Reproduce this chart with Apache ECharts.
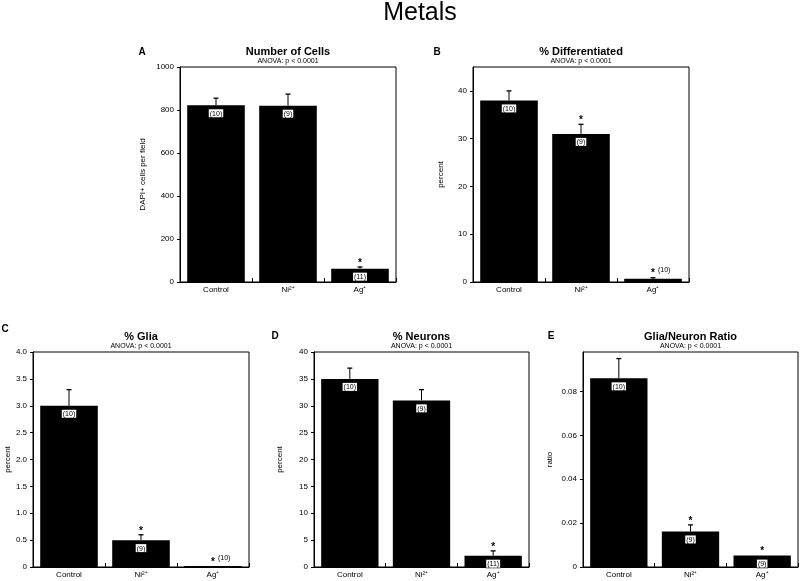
<!DOCTYPE html>
<html>
<head>
<meta charset="utf-8">
<title>Metals</title>
<script src="https://cdn.jsdelivr.net/npm/echarts@6/dist/echarts.min.js"></script>
<style>
  html, body { margin: 0; padding: 0; background: #fff; }
  #chart { width: 800px; height: 581px; }
</style>
</head>
<body>
<div id="chart"></div>
<script>
const FONT = "'Liberation Sans', Arial, sans-serif";

const groups = ["Control", "Ni²⁺", "Ag⁺"];

// A - number of cells
const cellsMean = [822, 820, 62];
const cellsErr = [855, 874, 70];
const cellsN = ["(10)", "(9)", "(11)"];
const cellsStar = [0, 0, 1];
const cellsNInside = [1, 1, 1];

// B - % differentiated
const diffMean = [38, 31, 0.7];
const diffErr = [40, 33, 0.9];
const diffN = ["(10)", "(9)", "(10)"];
const diffStar = [0, 1, 1];
const diffNInside = [1, 1, 0];

// C - % glia
const gliaMean = [3.0, 0.5, 0.02];
const gliaErr = [3.3, 0.6, 0.02];
const gliaN = ["(10)", "(9)", "(10)"];
const gliaStar = [0, 1, 1];
const gliaNInside = [1, 1, 0];

// D - % neurons
const neurMean = [35, 31, 2.1];
const neurErr = [37, 33, 3];
const neurN = ["(10)", "(9)", "(11)"];
const neurStar = [0, 0, 1];
const neurNInside = [1, 1, 1];

// E - glia/neuron ratio
const ratioMean = [0.086, 0.0162, 0.0052];
const ratioErr = [0.095, 0.0192, 0.0052];
const ratioN = ["(10)", "(9)", "(9)"];
const ratioStar = [0, 1, 1];
const ratioNInside = [1, 1, 1];

const panels = [
  { letter: "A", title: "Number of Cells", yName: "DAPI+ cells per field",
    mean: cellsMean, err: cellsErr, n: cellsN, star: cellsStar, nIn: cellsNInside,
    max: 1000, step: 200, showMax: true, fmt: (v) => String(v),
    box: { left: 180, top: 67, width: 216, height: 215 }, nameGap: 33, letterX: 142, letterY: 52 },
  { letter: "B", title: "% Differentiated", yName: "percent",
    mean: diffMean, err: diffErr, n: diffN, star: diffStar, nIn: diffNInside,
    max: 45, step: 10, showMax: false, fmt: (v) => String(v),
    box: { left: 473, top: 67, width: 216, height: 215 }, nameGap: 28, letterX: 437, letterY: 52 },
  { letter: "C", title: "% Glia", yName: "percent",
    mean: gliaMean, err: gliaErr, n: gliaN, star: gliaStar, nIn: gliaNInside,
    max: 4, step: 0.5, showMax: true,
    fmt: (v) => (v === 0 ? "0" : v.toFixed(1)),
    box: { left: 33, top: 352, width: 216, height: 215 }, nameGap: 20, letterX: 5, letterY: 329 },
  { letter: "D", title: "% Neurons", yName: "percent",
    mean: neurMean, err: neurErr, n: neurN, star: neurStar, nIn: neurNInside,
    max: 40, step: 5, showMax: true, fmt: (v) => String(v),
    box: { left: 314, top: 352, width: 215, height: 215 }, nameGap: 30, letterX: 275, letterY: 336 },
  { letter: "E", title: "Glia/Neuron Ratio", yName: "ratio",
    mean: ratioMean, err: ratioErr, n: ratioN, star: ratioStar, nIn: ratioNInside,
    max: 0.098, step: 0.02, showMax: false,
    fmt: (v) => (v === 0 ? "0" : v.toFixed(2)),
    box: { left: 583, top: 352, width: 215, height: 215 }, nameGap: 29, letterX: 551, letterY: 336 },
];

function txt(x, y, text, size, bold) {
  return {
    type: "text",
    x: x,
    y: y,
    style: {
      text: text,
      fontSize: size,
      fontWeight: bold ? "bold" : "normal",
      fontFamily: FONT,
      fill: "#000",
      textAlign: "center",
      textVerticalAlign: "middle",
    },
  };
}

/**
 * 误差线 + 星号 + 外部样本数
 */
function errRender(p) {
  return function (params, api) {
    const i = params.dataIndex;
    const base = api.coord([i, p.mean[i]]);
    const top = api.coord([i, p.err[i]]);
    const kids = [];
    if (p.err[i] > p.mean[i]) {
      kids.push({
        type: "line",
        shape: { x1: base[0], y1: base[1], x2: top[0], y2: top[1] },
        style: { stroke: "#000", lineWidth: 1 },
      });
      kids.push({
        type: "line",
        shape: { x1: top[0] - 2.5, y1: top[1], x2: top[0] + 2.5, y2: top[1] },
        style: { stroke: "#000", lineWidth: 1.3 },
      });
    }
    const y = Math.min(base[1], top[1]);
    if (p.star[i]) {
      kids.push({
        type: "text",
        x: top[0],
        y: y - 4,
        style: {
          text: "*", fontSize: 10, fontWeight: "bold", fontFamily: FONT, fill: "#000",
          align: "center", verticalAlign: "middle", textAlign: "center", textVerticalAlign: "middle",
        },
      });
    }
    if (!p.nIn[i]) {
      kids.push({
        type: "text",
        x: top[0] + 5,
        y: y - 8,
        style: {
          text: p.n[i], fontSize: 7, fontFamily: FONT, fill: "#000",
          align: "left", verticalAlign: "middle", textAlign: "left", textVerticalAlign: "middle",
        },
      });
    }
    return { type: "group", children: kids };
  };
}

const grid = [];
const xAxis = [];
const yAxis = [];
const series = [];
const graphic = [txt(420, 13, "Metals", 25, false)];

panels.forEach((p, k) => {
  const b = p.box;
  grid.push({
    left: b.left, top: b.top, width: b.width, height: b.height,
    show: true, borderColor: "#000", borderWidth: 1,
    outerBoundsMode: "none",
  });
  xAxis.push({
    gridIndex: k,
    type: "category",
    data: groups,
    axisLine: { lineStyle: { color: "#000", width: 1 } },
    axisTick: { show: true, inside: true, length: 4, lineStyle: { color: "#000" } },
    axisLabel: { color: "#000", fontSize: 8, fontFamily: FONT, margin: 4, interval: 0 },
  });
  yAxis.push({
    gridIndex: k,
    type: "value",
    min: 0,
    max: p.max,
    interval: p.step,
    name: p.yName,
    nameLocation: "middle",
    nameGap: p.nameGap,
    nameTextStyle: { color: "#000", fontSize: 8, fontFamily: FONT },
    axisLine: { show: true, lineStyle: { color: "#000", width: 1 } },
    axisTick: { show: true, length: 3, lineStyle: { color: "#000" } },
    axisLabel: {
      color: "#000", fontSize: 8, fontFamily: FONT, margin: 6,
      showMaxLabel: p.showMax,
      formatter: p.fmt,
    },
    splitLine: { show: false },
  });
  series.push({
    type: "bar",
    xAxisIndex: k,
    yAxisIndex: k,
    barCategoryGap: "20%",
    itemStyle: { color: "#000" },
    data: p.mean.map((v, i) => ({ value: v, label: { show: !!p.nIn[i] } })),
    label: {
      position: "insideTop",
      distance: 4,
      formatter: (d) => p.n[d.dataIndex],
      color: "#000",
      fontSize: 7,
      fontFamily: FONT,
      backgroundColor: "#fff",
      borderColor: "#000",
      borderWidth: 0.6,
      padding: [1, 1, 0, 1],
    },
  });
  series.push({
    type: "custom",
    xAxisIndex: k,
    yAxisIndex: k,
    clip: false,
    z: 5,
    data: p.mean.map((v, i) => [i, v, p.err[i]]),
    renderItem: errRender(p),
  });
  const cx = b.left + b.width / 2;
  graphic.push(txt(p.letterX, p.letterY, p.letter, 10, true));
  graphic.push(txt(cx, b.top - 15, p.title, 11, true));
  graphic.push(txt(cx, b.top - 6, "ANOVA: p < 0.0001", 7, false));
});

const myChart = echarts.init(document.getElementById("chart"));
myChart.setOption({
  animation: false,
  backgroundColor: "#fff",
  grid: grid,
  xAxis: xAxis,
  yAxis: yAxis,
  series: series,
  graphic: graphic,
});
</script>
</body>
</html>
